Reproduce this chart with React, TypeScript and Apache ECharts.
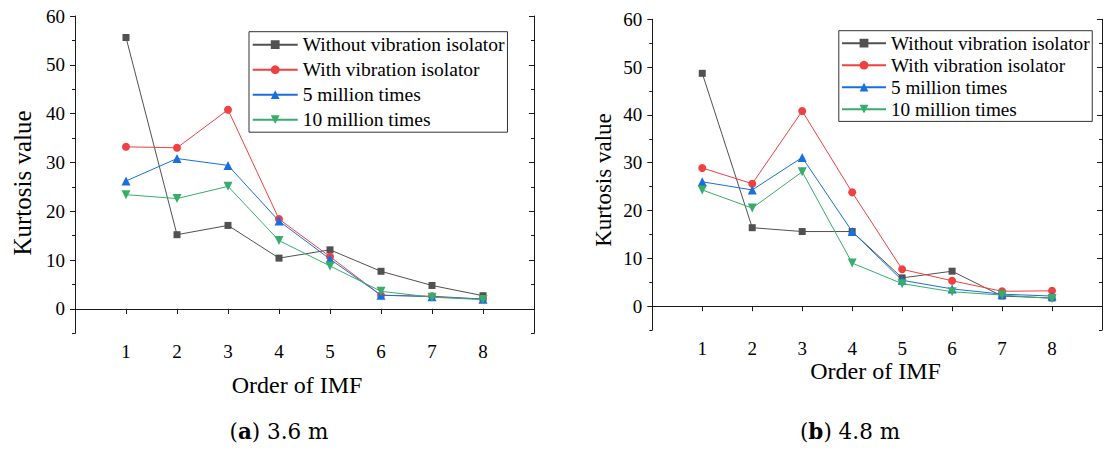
import React, { useEffect, useRef } from "react";
import * as echarts from "echarts";

const IMF_ORDERS = [1, 2, 3, 4, 5, 6, 7, 8];
const SERIES_NAMES = [
  "Without vibration isolator",
  "With vibration isolator",
  "5 million times",
  "10 million times",
];
const SERIES_COLORS = ["#515151", "#F14040", "#1A6FDF", "#37AD6B"];
const SERIES_SYMBOLS = ["rect", "circle", "triangle", "triangle"];
const SERIES_SYMBOL_SIZES = [7, 8, 9, 9];
const SERIES_SYMBOL_ROTATE = [0, 0, 0, 180];

// (a) 3.6 m
const A_WITHOUT = [55.6, 15.2, 17.1, 10.4, 12.1, 7.7, 4.8, 2.7];
const A_WITH = [33.2, 33.0, 40.8, 18.4, 10.7, 2.8, 2.6, 2.0];
const A_5M = [26.2, 30.8, 29.4, 18.0, 10.2, 2.8, 2.5, 2.0];
const A_10M = [23.4, 22.6, 25.1, 14.0, 8.8, 3.6, 2.4, 1.9];

// (b) 4.8 m
const B_WITHOUT = [48.7, 16.4, 15.6, 15.6, 5.9, 7.3, 2.1, 1.7];
const B_WITH = [28.9, 25.6, 40.8, 23.8, 7.7, 5.3, 3.1, 3.2];
const B_5M = [26.0, 24.3, 31.1, 15.6, 5.4, 3.6, 2.5, 2.1];
const B_10M = [24.3, 20.5, 28.1, 9.0, 4.7, 3.0, 2.3, 1.6];

const Y_MAJOR_TICKS = [0, 10, 20, 30, 40, 50, 60];
const Y_MINOR_TICKS = [-5, 5, 15, 25, 35, 45, 55];

const X_TITLE = "Order of IMF";
const Y_TITLE = "Kurtosis value";
const CAPTION_A = ["a", " 3.6 m"];
const CAPTION_B = ["b", " 4.8 m"];

const FONT = "'Liberation Serif', 'Times New Roman', serif";
const CAPTION_FONT = "'DejaVu Serif', serif";
const AXIS_COLOR = "#1a1a1a";

export default function App() {
  const ref = useRef<HTMLDivElement>(null);

  useEffect(() => {
    if (!ref.current) return;
    const chart = echarts.init(ref.current, undefined, { renderer: "svg" });

    const grids = [
      { left: 75, top: 16, width: 459, height: 317.3 },
      { left: 652.3, top: 19.3, width: 456.1, height: 310.7 },
    ];

    const xAxes: any[] = [];
    const yAxes: any[] = [];
    grids.forEach((_, g) => {
      const baseX = {
        gridIndex: g,
        type: "value",
        min: 0,
        max: 9,
        interval: 1,
        splitLine: { show: false },
        axisLine: { show: true, lineStyle: { color: AXIS_COLOR, width: 1 } },
      };
      xAxes.push({
        ...baseX,
        position: "bottom",
        axisTick: { show: true, inside: false, length: 5, lineStyle: { color: AXIS_COLOR } },
        axisLabel: {
          show: true,
          margin: 9,
          fontFamily: FONT,
          fontSize: 19,
          color: "#000",
          formatter: (v: number) => (v >= 1 && v <= 8 ? String(v) : ""),
        },
      });
      xAxes.push({
        ...baseX,
        position: "top",
        axisTick: { show: true, inside: true, length: 5, lineStyle: { color: AXIS_COLOR } },
        axisLabel: { show: false },
      });
      const baseY = {
        gridIndex: g,
        type: "value",
        min: -5,
        max: 60,
        interval: 5,
        splitLine: { show: false },
      };
      yAxes.push({
        ...baseY,
        position: "left",
        axisLine: { show: true, lineStyle: { color: AXIS_COLOR, width: 1 } },
        axisTick: {
          show: true,
          inside: false,
          length: 3,
          customValues: Y_MINOR_TICKS,
          lineStyle: { color: AXIS_COLOR },
        },
        axisLabel: {
          show: true,
          margin: 10,
          fontFamily: FONT,
          fontSize: 19,
          color: "#000",
          customValues: Y_MAJOR_TICKS,
        },
      });
      yAxes.push({
        ...baseY,
        position: "left",
        axisLine: { show: false },
        axisTick: {
          show: true,
          inside: false,
          length: 5,
          customValues: Y_MAJOR_TICKS,
          lineStyle: { color: AXIS_COLOR },
        },
        axisLabel: { show: false },
      });
      yAxes.push({
        ...baseY,
        position: "right",
        axisLine: { show: true, lineStyle: { color: AXIS_COLOR, width: 1 } },
        axisTick: {
          show: true,
          inside: true,
          length: 3,
          customValues: Y_MINOR_TICKS,
          lineStyle: { color: AXIS_COLOR },
        },
        axisLabel: { show: false },
      });
      yAxes.push({
        ...baseY,
        position: "right",
        axisLine: { show: false },
        axisTick: {
          show: true,
          inside: true,
          length: 5,
          customValues: Y_MAJOR_TICKS,
          lineStyle: { color: AXIS_COLOR },
        },
        axisLabel: { show: false },
      });
    });

    const panels = [
      [A_WITHOUT, A_WITH, A_5M, A_10M],
      [B_WITHOUT, B_WITH, B_5M, B_10M],
    ];

    const series: any[] = [];
    panels.forEach((sets, g) => {
      sets.forEach((vals, i) => {
        series.push({
          type: "line",
          name: SERIES_NAMES[i],
          xAxisIndex: g * 2,
          yAxisIndex: g * 4,
          data: IMF_ORDERS.map((x, k) => [x, vals[k]]),
          symbol: SERIES_SYMBOLS[i],
          symbolSize: SERIES_SYMBOL_SIZES[i],
          symbolRotate: SERIES_SYMBOL_ROTATE[i],
          showSymbol: true,
          lineStyle: { color: SERIES_COLORS[i], width: 1 },
          itemStyle: { color: SERIES_COLORS[i] },
          z: 2 + i,
        });
      });
    });

    const legendBase = {
      orient: "vertical",
      itemHeight: 11,
      borderColor: "#333",
      borderWidth: 1,
      borderRadius: 0,
      selectedMode: false,
      data: SERIES_NAMES,
    };

    const legends = [
      {
        ...legendBase,
        left: 249,
        top: 31.7,
        itemGap: 5,
        itemWidth: 45,
        padding: [3, 3, 2.5, 2.7],
        textStyle: { fontFamily: FONT, color: "#000", fontSize: 19.5 },
      },
      {
        ...legendBase,
        left: 838.8,
        top: 30.7,
        itemGap: 3,
        itemWidth: 44,
        padding: [3, 2.7, 2.7, 2.2],
        textStyle: { fontFamily: FONT, color: "#000", fontSize: 19.2 },
      },
    ];

    const textEl = (text: string, x: number, y: number, size: number, rotation = 0) => ({
      type: "text",
      x,
      y,
      rotation,
      style: {
        text,
        fontFamily: FONT,
        fontSize: size,
        fill: "#000",
        align: "center",
        verticalAlign: "middle",
      },
    });

    const captionEl = (parts: string[], x: number, y: number) => ({
      type: "text",
      x,
      y,
      style: {
        text: `({b|${parts[0]}})${parts[1]}`,
        fontFamily: CAPTION_FONT,
        fontSize: 21.5,
        fill: "#000",
        align: "center",
        verticalAlign: "middle",
        rich: {
          b: { fontWeight: "bold", fontFamily: CAPTION_FONT, fontSize: 21.5, fill: "#000" },
        },
      },
    });

    chart.setOption({
      animation: false,
      backgroundColor: "#fff",
      grid: grids,
      xAxis: xAxes,
      yAxis: yAxes,
      legend: legends,
      series,
      graphic: [
        textEl(Y_TITLE, 22, 183, 25, Math.PI / 2),
        textEl(Y_TITLE, 603.5, 180, 23, Math.PI / 2),
        textEl(X_TITLE, 297, 385, 24),
        textEl(X_TITLE, 875.6, 371, 24),
        captionEl(CAPTION_A, 279, 431),
        captionEl(CAPTION_B, 850, 431),
      ],
    });

    return () => chart.dispose();
  }, []);

  return (
    <div
      ref={ref}
      style={{ position: "fixed", left: 0, top: 0, width: 1105, height: 449, background: "#fff" }}
    />
  );
}
